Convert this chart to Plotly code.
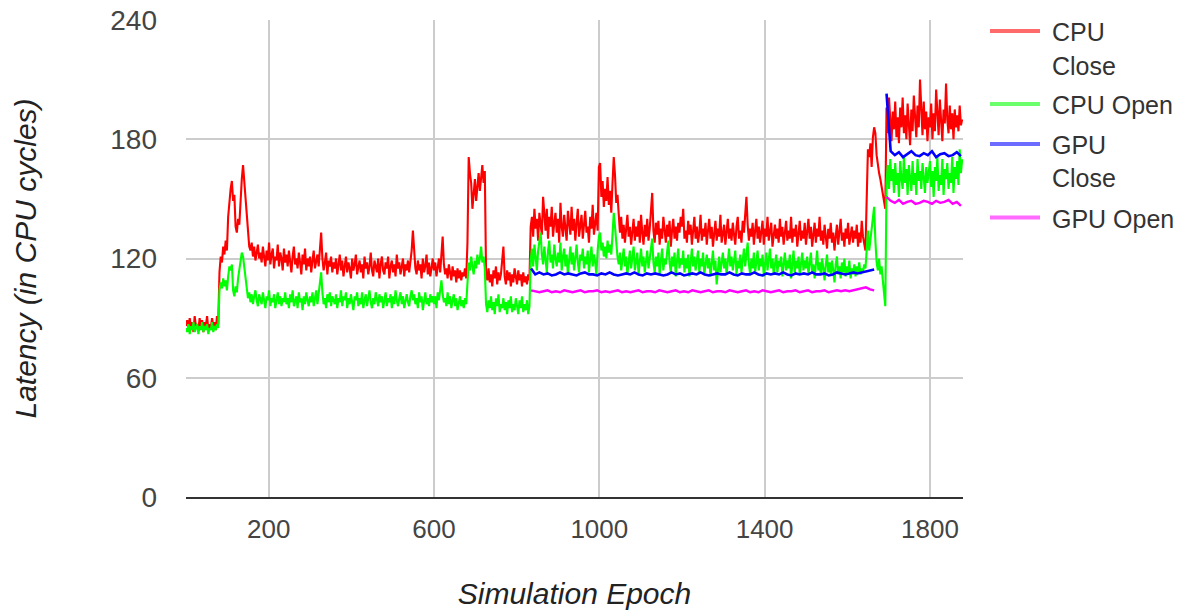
import plotly.graph_objects as go

# ---------------------------------------------------------------------------
# Data: average access latency per simulation epoch
# CPU series sampled every 3 epochs (0 .. 1878), 20 samples per row
# GPU series sampled every 10 epochs (835 .. 1875), None = no GPU traffic
# ---------------------------------------------------------------------------
cpu_epochs = list(range(0, 1879, 3))
gpu_epochs = list(range(835, 1876, 10))

cpu_close = [
    86, 89, 84, 90, 85, 88, 83, 91, 86, 87, 84, 90, 85, 89, 83, 88, 86, 91, 84, 87,            # 0
    85, 90, 86, 88, 84, 91, 87, 113, 121, 118, 126, 122, 129, 124, 141, 150, 155, 159, 149, 152,  # 60
    136, 133, 140, 137, 152, 160, 167, 158, 150, 139, 131, 126, 124, 128, 121, 126, 119, 124, 127, 120,  # 120
    123, 118, 126, 121, 116, 124, 119, 128, 117, 122, 125, 115, 121, 119, 127, 116, 123, 120, 114, 125,  # 180
    118, 122, 116, 124, 119, 113, 121, 126, 117, 120, 115, 123, 118, 112, 122, 117, 125, 114, 120, 116,  # 240
    121, 113, 119, 124, 115, 118, 122, 116, 127, 133, 120, 114, 118, 123, 112, 119, 116, 121, 113, 118,  # 300
    115, 120, 112, 117, 122, 114, 119, 111, 116, 121, 113, 118, 115, 110, 120, 114, 117, 122, 112, 116,  # 360
    119, 113, 117, 110, 121, 115, 118, 112, 116, 123, 114, 111, 119, 116, 113, 120, 110, 117, 121, 114,  # 420
    112, 118, 115, 121, 110, 116, 119, 113, 117, 111, 122, 115, 118, 112, 116, 120, 111, 117, 114, 119,  # 480
    113, 118, 124, 134, 121, 115, 112, 119, 114, 117, 110, 120, 113, 116, 122, 112, 118, 111, 115, 120,  # 540
    114, 118, 111, 116, 120, 113, 125, 131, 117, 112, 115, 110, 117, 113, 109, 116, 111, 114, 108, 115,  # 600
    110, 114, 109, 113, 111, 115, 110, 128, 171, 163, 158, 145, 152, 160, 149, 157, 163, 154, 160, 167,  # 660
    158, 164, 113, 109, 115, 108, 112, 106, 114, 110, 116, 107, 113, 109, 112, 119, 126, 111, 107, 114,  # 720
    109, 113, 106, 112, 108, 115, 110, 107, 114, 109, 112, 106, 113, 108, 111, 107, 112, 109, 136, 141,  # 780
    131, 145, 135, 140, 129, 143, 137, 132, 151, 139, 134, 145, 130, 141, 136, 146, 131, 138, 143, 133,  # 840
    140, 128, 148, 136, 131, 142, 135, 129, 144, 137, 132, 146, 134, 140, 129, 138, 145, 131, 137, 142,  # 900
    130, 139, 144, 133, 136, 128, 141, 135, 147, 132, 138, 143, 134, 166, 168, 151, 159, 146, 155, 149,  # 960
    161, 147, 154, 143, 158, 171, 162, 148, 152, 139, 133, 141, 130, 137, 128, 135, 142, 131, 136, 127,  # 1020
    134, 140, 129, 136, 131, 139, 128, 142, 133, 127, 137, 131, 140, 129, 135, 144, 153, 134, 128, 138,  # 1080
    132, 139, 127, 135, 130, 141, 133, 128, 137, 131, 139, 126, 134, 140, 130, 136, 129, 138, 133, 141,  # 1140
    136, 145, 130, 134, 128, 139, 132, 137, 127, 135, 141, 130, 136, 128, 133, 142, 129, 135, 131, 138,  # 1200
    127, 134, 140, 130, 136, 126, 133, 139, 129, 135, 131, 142, 128, 134, 137, 127, 133, 140, 130, 135,  # 1260
    129, 138, 132, 127, 136, 141, 130, 134, 128, 139, 133, 144, 151, 137, 129, 135, 131, 138, 127, 134,  # 1320
    140, 130, 136, 128, 133, 139, 127, 135, 131, 141, 129, 134, 138, 126, 132, 137, 130, 135, 128, 140,  # 1380
    131, 136, 127, 133, 139, 129, 134, 130, 141, 128, 135, 131, 137, 126, 133, 139, 129, 134, 130, 138,  # 1440
    127, 134, 140, 130, 136, 126, 132, 138, 128, 135, 131, 141, 129, 134, 127, 137, 131, 125, 135, 130,  # 1500
    138, 128, 133, 124, 131, 137, 127, 134, 140, 129, 133, 126, 135, 130, 138, 127, 132, 136, 128, 134,  # 1560
    130, 137, 126, 133, 128, 139, 131, 127, 124, 150, 175, 171, 178, 166, 181, 186, 183, 172, 166, 163,  # 1620
    160, 156, 152, 148, 145, 196, 183, 201, 188, 179, 194, 185, 199, 181, 191, 178, 196, 186, 201, 183,  # 1680
    192, 180, 198, 187, 177, 195, 184, 202, 189, 181, 197, 186, 210, 190, 182, 199, 185, 194, 179, 191,  # 1740
    186, 198, 180, 193, 184, 205, 192, 182, 200, 187, 179, 195, 188, 208, 190, 183, 197, 185, 193, 180,  # 1800
    195, 186, 192, 184, 197, 187, 190,                                                          # 1860
]

cpu_open = [
    85, 83, 87, 82, 86, 84, 88, 83, 85, 87, 82, 86, 84, 88, 83, 86, 84, 87, 82, 85,            # 0
    84, 88, 83, 86, 84, 87, 85, 104, 108, 105, 110, 106, 109, 104, 111, 116, 114, 117, 104, 101,  # 60
    106, 103, 110, 114, 120, 123, 121, 116, 111, 105, 100, 103, 98, 102, 97, 101, 104, 99, 96, 102,  # 120
    100, 97, 103, 98, 95, 101, 99, 104, 96, 100, 98, 102, 95, 99, 103, 97, 101, 96, 100, 98,    # 180
    103, 97, 100, 95, 102, 98, 104, 96, 99, 101, 95, 103, 98, 100, 94, 101, 97, 103, 99, 96,    # 240
    101, 98, 103, 96, 100, 104, 97, 102, 106, 113, 103, 97, 100, 95, 102, 98, 103, 96, 101, 99,  # 300
    97, 102, 95, 100, 98, 104, 96, 101, 99, 103, 95, 100, 97, 102, 98, 94, 101, 99, 103, 96,    # 360
    100, 97, 103, 95, 99, 102, 96, 101, 104, 98, 95, 100, 97, 103, 99, 96, 102, 98, 101, 95,    # 420
    99, 103, 96, 100, 98, 102, 95, 101, 97, 104, 99, 96, 100, 103, 97, 101, 95, 99, 102, 98,    # 480
    96, 101, 104, 99, 102, 97, 100, 95, 103, 98, 101, 94, 99, 103, 97, 100, 96, 102, 98, 101,   # 540
    97, 101, 95, 103, 99, 104, 109, 102, 98, 100, 96, 103, 97, 101, 95, 99, 102, 96, 100, 94,   # 600
    98, 101, 96, 99, 95, 100, 97, 112, 118, 114, 121, 116, 112, 119, 115, 122, 117, 120, 126, 118,  # 660
    121, 115, 97, 93, 99, 95, 101, 94, 98, 92, 100, 96, 102, 93, 97, 95, 100, 94, 98, 92,       # 720
    99, 95, 101, 93, 97, 94, 100, 96, 92, 99, 95, 101, 93, 97, 94, 99, 92, 96, 119, 125,        # 780
    116, 127, 120, 114, 124, 128, 133, 122, 117, 126, 119, 113, 124, 129, 118, 122, 115, 127, 120, 116,  # 840
    123, 118, 128, 114, 121, 125, 116, 122, 112, 120, 126, 117, 123, 114, 120, 127, 118, 113, 122, 119,  # 900
    125, 115, 121, 117, 124, 113, 120, 126, 116, 122, 118, 112, 124, 131, 133, 124, 128, 121, 126, 120,  # 960
    129, 123, 127, 122, 132, 143, 136, 127, 121, 117, 123, 114, 120, 125, 116, 121, 112, 119, 124, 115,  # 1020
    120, 126, 114, 118, 123, 112, 119, 125, 116, 121, 113, 118, 124, 115, 120, 127, 130, 118, 113, 121,  # 1080
    116, 123, 112, 119, 125, 114, 120, 117, 124, 129, 118, 113, 121, 116, 123, 111, 119, 125, 115, 120,  # 1140
    117, 124, 113, 120, 115, 122, 111, 118, 125, 116, 121, 114, 119, 124, 113, 120, 116, 123, 112, 119,  # 1200
    122, 115, 120, 111, 118, 124, 114, 119, 107, 116, 121, 113, 118, 123, 115, 120, 112, 119, 125, 116,  # 1260
    121, 114, 118, 124, 112, 119, 115, 122, 113, 120, 125, 116, 121, 128, 117, 112, 120, 115, 123, 113,  # 1320
    118, 124, 114, 120, 116, 122, 111, 118, 123, 114, 119, 125, 115, 120, 112, 118, 122, 113, 119, 116,  # 1380
    121, 111, 117, 123, 114, 119, 115, 122, 110, 117, 124, 113, 119, 115, 121, 112, 118, 123, 114, 119,  # 1440
    115, 121, 112, 118, 123, 113, 117, 110, 119, 124, 114, 118, 112, 120, 115, 109, 117, 122, 113, 118,  # 1500
    112, 119, 114, 108, 117, 121, 112, 116, 110, 118, 113, 120, 111, 116, 113, 119, 110, 115, 112, 117,  # 1560
    111, 116, 113, 118, 112, 115, 113, 117, 115, 126, 134, 124, 130, 137, 142, 146, 129, 118, 114, 120,  # 1620
    112, 116, 109, 100, 96, 158, 167, 155, 170, 159, 165, 153, 168, 157, 163, 151, 169, 160, 155, 171,  # 1680
    158, 165, 152, 167, 161, 154, 169, 157, 163, 152, 170, 159, 164, 155, 168, 160, 153, 166, 158, 163,  # 1740
    169, 156, 164, 151, 166, 159, 171, 154, 162, 157, 170, 152, 165, 160, 168, 155, 163, 158, 171, 153,  # 1800
    166, 160, 169, 157, 175, 163, 170,                                                          # 1860
]

gpu_close = [
    115, 112, 113, 112, 112.5, 111.5, 112, 113, 112, 112.5,
    112, 111.5, 112.5, 113, 112, 112, 111.5, 112.5, 112, 113,
    112, 111.5, 112, 112.5, 112, 113, 112, 111.5, 112.5, 112,
    112.5, 112, 111.5, 112, 113, 112, 112.5, 111.5, 112, 112.5,
    112, 113, 112, 111.5, 112, 112.5, 112, 112, 113, 112,
    111.5, 112.5, 112, 112, 113, 112, 111.5, 112.5, 112, 112.5,
    112, 113, 112, 111.5, 112.5, 112, 112.5, 112, 113, 112,
    112, 112.5, 111.5, 112, 113, 112.5, 112, 112.5, 113, 112.5,
    113, 113.5, 114, 114.5,
    None, None,
    203, 174, 172, 173.5, 171, 172.5, 174, 172, 171.5, 173,
    172, 174, 171, 172.5, 173, 171.5, 172, 173.5, 171.5,
]

gpu_open = [
    104, 103.5, 103, 103.5, 104, 103, 103.5, 103, 104, 103.5,
    103, 103.5, 104, 103, 103.5, 103.5, 104, 103, 103.5, 103,
    103.5, 104, 103, 103.5, 103, 103.5, 104, 103, 103.5, 103.5,
    103, 104, 103.5, 103, 103.5, 104, 103, 103.5, 103, 104,
    103.5, 103, 103.5, 104, 103, 103.5, 103.5, 103, 104, 103.5,
    103, 103.5, 104, 103, 103.5, 103, 104, 103.5, 103, 103.5,
    104, 103, 103.5, 103.5, 104, 103, 103.5, 104, 103, 103.5,
    103.5, 104, 103, 103.5, 104, 103.5, 104, 103.5, 104, 104.5,
    105, 105.5, 104.5, 104,
    None, None,
    151, 149, 148, 149.5, 147.5, 148.5, 149, 147.5, 148, 149,
    148.5, 147.5, 149, 148, 148.5, 149.5, 147.5, 148.5, 146.5,
]

series_names = ["CPU Close", "CPU Open", "GPU Close", "GPU Open"]
series_colors = ["#ff0000", "#00ff00", "#0000ff", "#ff00ff"]
legend_colors = ["#ff6b6b", "#6bff6b", "#6b6bff", "#ff6bff"]
legend_lines = [["CPU", "Close"], ["CPU Open"], ["GPU", "Close"], ["GPU Open"]]

x_ticks = [200, 600, 1000, 1400, 1800]
y_ticks = [0, 60, 120, 180, 240]

FONT = "Liberation Sans, Arial, sans-serif"

# plot-area geometry in pixels
W_PX, H_PX = 1186, 616
L, R, T, B = 186, 963, 20, 497


def px_x(x):
    return (x - L) / (R - L)


def px_y(y):
    return (B - y) / (B - T)


fig = go.Figure()

series = [
    (cpu_epochs, cpu_close, 2.1),
    (cpu_epochs, cpu_open, 2.1),
    (gpu_epochs, gpu_close, 2.6),
    (gpu_epochs, gpu_open, 2.4),
]
for (xs, ys, w), name, color in zip(series, series_names, series_colors):
    fig.add_trace(go.Scatter(
        x=xs, y=ys, name=name, mode="lines",
        line=dict(color=color, width=w),
        connectgaps=False, showlegend=False,
    ))

# legend drawn to the right of the plot: swatch + wrapped label
shapes = []
annotations = []
swatch_y = [31, 104, 144, 217.5]
line_gap = 33.5
for color, lines, sy in zip(legend_colors, legend_lines, swatch_y):
    shapes.append(dict(
        type="line", xref="paper", yref="paper",
        x0=px_x(990), x1=px_x(1040), y0=px_y(sy), y1=px_y(sy),
        line=dict(color=color, width=4),
    ))
    for i, txt in enumerate(lines):
        annotations.append(dict(
            text=txt, xref="paper", yref="paper",
            x=px_x(1050), y=px_y(sy + i * line_gap + 1),
            xanchor="left", yanchor="middle", showarrow=False,
            font=dict(family=FONT, size=25, color="#333333"),
        ))

fig.update_layout(
    width=W_PX, height=H_PX,
    margin=dict(l=L, r=W_PX - R, t=T, b=H_PX - B, pad=0, autoexpand=False),
    paper_bgcolor="white", plot_bgcolor="white",
    font=dict(family=FONT, color="#444444"),
    shapes=shapes, annotations=annotations,
    showlegend=False,
)

fig.update_xaxes(
    range=[0, 1880], tickvals=x_ticks, automargin=False,
    showgrid=True, gridcolor="#cccccc", gridwidth=1.5,
    zeroline=False, showline=True, linecolor="#333333", linewidth=2,
    ticks="", ticklabelstandoff=8,
    tickfont=dict(family=FONT, size=26, color="#444444"),
    title=dict(text="<i>Simulation Epoch</i>", standoff=40,
               font=dict(family=FONT, size=30, color="#222222")),
)
fig.update_yaxes(
    range=[0, 240], tickvals=y_ticks, automargin=False,
    showgrid=True, gridcolor="#cccccc", gridwidth=1.5,
    zeroline=False, showline=False,
    ticks="", ticklabelstandoff=28,
    tickfont=dict(family=FONT, size=28, color="#444444"),
    title=dict(text="<i>Latency (in CPU cycles)</i>", standoff=64,
               font=dict(family=FONT, size=30, color="#222222")),
)

fig.write_html("out.html", config={"displayModeBar": False})
